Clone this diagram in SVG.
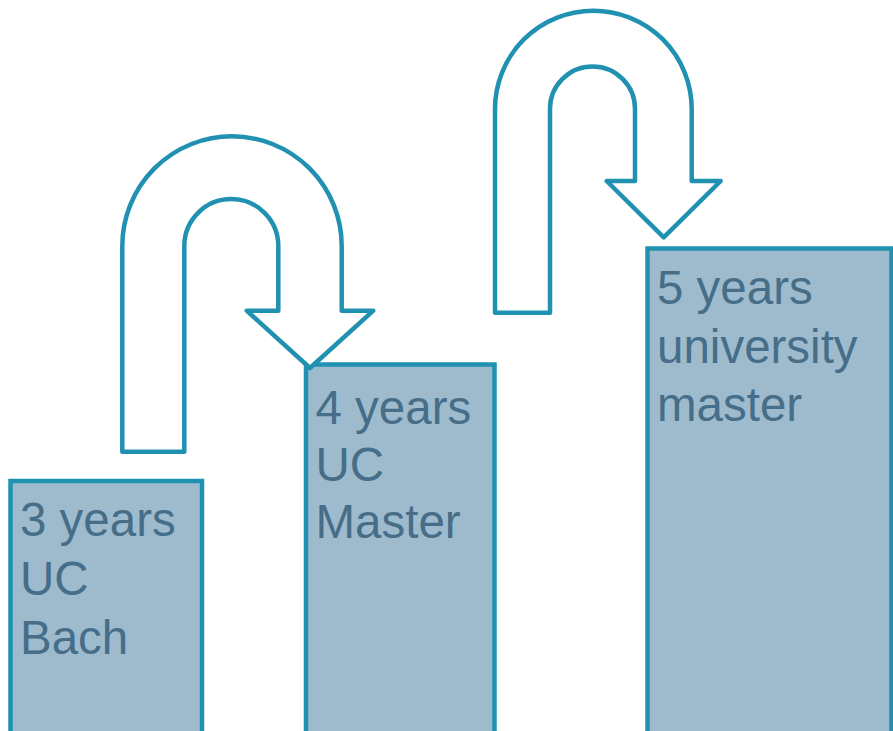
<svg xmlns="http://www.w3.org/2000/svg" width="893" height="731" viewBox="0 0 893 731">
  <style>
    .box { fill: #9EBBCE; stroke: #2191B2; stroke-width: 4.5; }
    .lbl { font-family: "Liberation Sans", Arial, sans-serif; font-size: 47.5px; fill: #466E88; }
    .uarrow { fill: #FFFFFF; stroke: #2191B2; stroke-width: 4.5; stroke-linejoin: round; }
  </style>
  <rect x="0" y="0" width="893" height="731" fill="#FFFFFF"/>
  <g id="node-uc-bach">
    <rect class="box" x="10.5" y="481" width="191.5" height="300"/>
    <text class="lbl" x="20" y="536">3 years</text>
    <text class="lbl" x="20" y="595">UC</text>
    <text class="lbl" x="20" y="654">Bach</text>
  </g>
  <g id="node-uc-master">
    <rect class="box" x="306" y="364.5" width="188.5" height="400"/>
    <text class="lbl" x="315.5" y="423.5">4 years</text>
    <text class="lbl" x="315.5" y="480.5">UC</text>
    <text class="lbl" x="315.5" y="537.5">Master</text>
  </g>
  <g id="node-university-master">
    <rect class="box" x="647.5" y="248.5" width="244" height="520"/>
    <text class="lbl" x="657" y="304">5 years</text>
    <text class="lbl" x="657" y="362.5">university</text>
    <text class="lbl" x="657" y="421">master</text>
  </g>
  <g id="connectors">
    <path class="uarrow" d="M 122.3 451.7 L 122.3 246 A 109.7 109.7 0 0 1 341.7 246 L 341.7 310.7 L 373.3 310.7 L 310 368 L 246.7 310.7 L 278.3 310.7 L 278.3 246 A 47 47 0 0 0 184.3 246 L 184.3 451.7 Z"/>
    <path class="uarrow" d="M 495 312.7 L 495 109 A 98.3 98.3 0 0 1 691.7 109 L 691.7 181 L 720.7 181 L 663.7 237.3 L 606.7 181 L 635 181 L 635 109 A 42.5 42.5 0 0 0 550 109 L 550 312.7 Z"/>
  </g>
</svg>
